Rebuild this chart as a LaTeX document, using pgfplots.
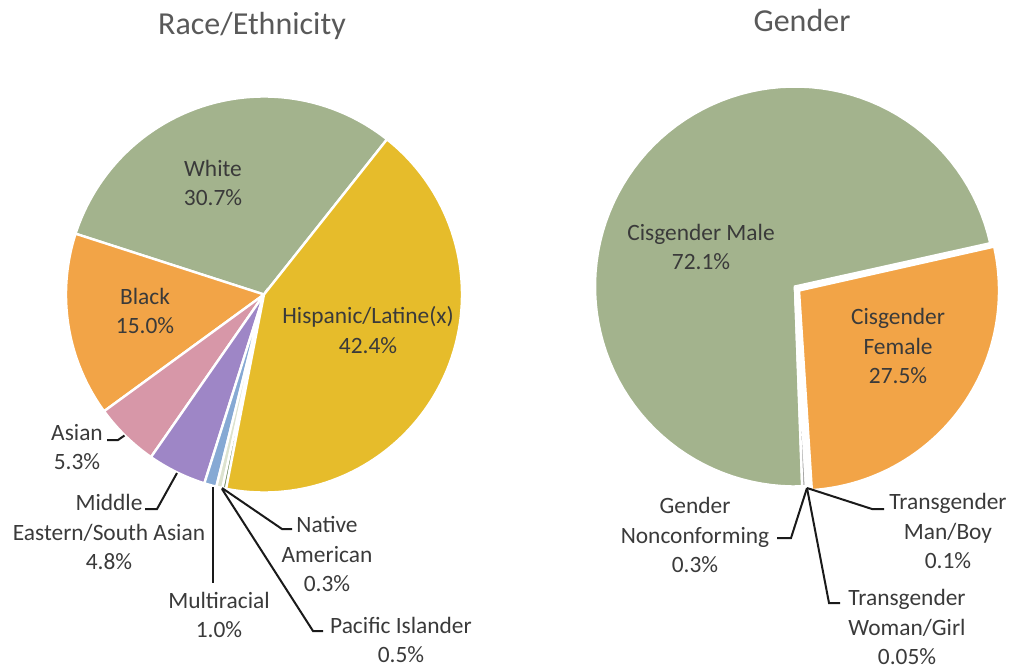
\documentclass[border=0pt]{standalone}
\usepackage{pgfplots}
\pgfplotsset{compat=1.18}
\usepackage{fontspec}
\setmainfont{Carlito}
\definecolor{sage}{HTML}{A3B38D}
\definecolor{gold}{HTML}{E6BC2B}
\definecolor{orng}{HTML}{F2A447}
\definecolor{pinkc}{HTML}{D797A8}
\definecolor{purp}{HTML}{9E86C6}
\definecolor{bluec}{HTML}{86A9D4}
\definecolor{paleg}{HTML}{DDE3D0}
\definecolor{darkg}{HTML}{7E9468}
\definecolor{gncc}{HTML}{A5A5A5}
\definecolor{twc}{HTML}{5B9BD5}
\definecolor{tmc}{HTML}{4472C4}
\definecolor{txt}{HTML}{3A3A3A}
\definecolor{ttl}{HTML}{595959}
\definecolor{lead}{HTML}{1A1A1A}

% slice: #1 = percentage, #2 = colour; centre \pcx,\pcy, radius \pr, start angle \curang
\newcommand\pieslice[2]{%
  \pgfmathsetmacro\endang{\curang+3.6*#1}%
  \edef\tmp{\noexpand\addplot[fill=#2, draw=white, line width=1.2pt, domain=\curang:\endang, samples=90]
    ({\pcx+\pr*cos(x)},{\pcy-\pr*sin(x)}) -- (axis cs:\pcx,\pcy) -- cycle;}%
  \tmp
  \global\let\curang\endang}

\begin{document}
\begin{tikzpicture}
\begin{axis}[width=505.5pt, height=334.5pt, scale only axis,
  xmin=0, xmax=1011, ymin=0, ymax=669, y dir=reverse,
  hide axis, clip=false]
\path (axis cs:0,0) rectangle (axis cs:1011,669);

% ---------- Race/Ethnicity ----------
\def\pcx{264}\def\pcy{294.5}\def\pr{198}
\gdef\curang{51.6}
\pieslice{30.7}{sage}   % White
\pieslice{15.0}{orng}   % Black
\pieslice{5.3}{pinkc}   % Asian
\pieslice{4.8}{purp}    % Middle Eastern/South Asian
\pieslice{1.0}{bluec}   % Multiracial
\pieslice{0.5}{paleg}   % Pacific Islander
\pieslice{0.3}{darkg}   % Native American
\pieslice{42.4}{gold}   % Hispanic/Latine(x)

% ---------- Gender ----------
\def\pcx{795}\def\pcy{286.5}\def\pr{200}
\gdef\curang{12.5}
\pieslice{72.1}{sage}   % Cisgender Male
\pieslice{0.3}{gncc}    % Gender Nonconforming
\pieslice{0.05}{twc}    % Transgender Woman/Girl
\pieslice{0.1}{tmc}     % Transgender Man/Boy
\def\pcx{799}\def\pcy{290.5}
\pieslice{27.5}{orng}   % Cisgender Female

% titles
\node[text=ttl, font=\fontsize{16}{19}\selectfont] at (axis cs:252,26) {Race/Ethnicity};
\node[text=ttl, font=\fontsize{16}{19}\selectfont] at (axis cs:802,21) {Gender};

% labels
\tikzset{lbl/.style={text=txt, align=center, inner sep=0pt, font=\fontsize{11.7}{14.8}\selectfont}}
\node[lbl] at (axis cs:213,183) {White\\30.7\%};
\node[lbl] at (axis cs:145,311) {Black\\15.0\%};
\node[lbl] at (axis cs:368,330) {Hispanic/Latine(x)\\42.4\%};
\node[lbl] at (axis cs:77,447) {Asian\\5.3\%};
\node[lbl] at (axis cs:109,532) {Middle\\Eastern/South Asian\\4.8\%};
\node[lbl] at (axis cs:219,615) {Multiracial\\1.0\%};
\node[lbl] at (axis cs:327,554) {Native\\American\\0.3\%};
\node[lbl] at (axis cs:401,640) {Pacific Islander\\0.5\%};

\node[lbl] at (axis cs:701,247) {Cisgender Male\\72.1\%};
\node[lbl] at (axis cs:898,346) {Cisgender\\Female\\27.5\%};
\node[lbl] at (axis cs:695,535) {Gender\\Nonconforming\\0.3\%};
\node[lbl] at (axis cs:948,531) {Transgender\\Man/Boy\\0.1\%};
\node[lbl] at (axis cs:907,627) {Transgender\\Woman/Girl\\0.05\%};

% leader lines
\tikzset{ldr/.style={draw=lead, line width=1pt}}
\draw[ldr] (axis cs:124.5,435.5) -- (axis cs:118,440) -- (axis cs:107,440);
\draw[ldr] (axis cs:177,473) -- (axis cs:157,509) -- (axis cs:145,509);
\draw[ldr] (axis cs:213,487) -- (axis cs:213,583);
\draw[ldr] (axis cs:222,488) -- (axis cs:282,529) -- (axis cs:292,529);
\draw[ldr] (axis cs:222,489) -- (axis cs:313,631) -- (axis cs:323,631);

\draw[ldr] (axis cs:807,488) -- (axis cs:791,538) -- (axis cs:777,538);
\draw[ldr] (axis cs:807,488) -- (axis cs:872,509) -- (axis cs:884,509);
\draw[ldr] (axis cs:807,488) -- (axis cs:829,603) -- (axis cs:840,603);
\end{axis}
\end{tikzpicture}
\end{document}
